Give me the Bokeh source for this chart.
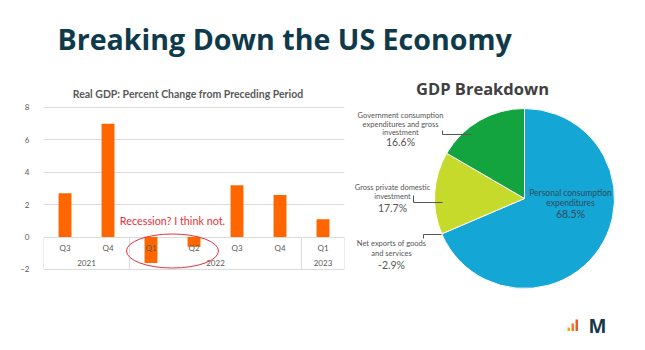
import numpy as np
from bokeh.plotting import figure
from bokeh.layouts import column, row
from bokeh.models import Range1d, FixedTicker, ColumnDataSource
from bokeh.core.properties import value
from bokeh.embed import file_html
from bokeh.resources import INLINE

# ---------------- data ----------------
quarters = ["Q3", "Q4", "Q1", "Q2", "Q3", "Q4", "Q1"]
years = ["2021", "2021", "2022", "2022", "2022", "2022", "2023"]
gdp_change = [2.7, 7.0, -1.6, -0.6, 3.2, 2.6, 1.1]
y_ticks = [-2, 0, 2, 4, 6, 8]

pie_labels = ["Personal consumption\nexpenditures",
              "Gross private domestic\ninvestment",
              "Government consumption\nexpenditures and gross\ninvestment",
              "Net exports of goods\nand services"]
pie_shares = [68.5, 17.7, 16.6, -2.9]
pie_pct_text = ["68.5%", "17.7%", "16.6%", "-2.9%"]

ORANGE = "#FF6600"
GRID = "#dcdcdc"
TXT = "#595959"
NAVY = "#0f3a4b"


def bare(fig):
    fig.grid.visible = False
    fig.outline_line_color = None
    return fig


# ---------------- header ----------------
hdr = bare(figure(width=645, height=70, x_range=Range1d(0, 645), y_range=Range1d(-70, 0),
                  output_backend="svg", toolbar_location=None, title=None,
                  x_axis_location=None, y_axis_location=None, min_border=0))
hdr.text(x=[57], y=[-37.5], text=["Breaking Down the US Economy"],
         text_font=value("Open Sans"), text_font_style="bold", text_font_size="28.6px",
         text_color=NAVY, text_baseline="middle", text_align="left")

# ---------------- bar chart ----------------
n = len(gdp_change)
xs = np.arange(n) + 0.5
p = figure(width=345, height=280, x_range=Range1d(0, n), y_range=Range1d(-7.0, 10.28),
           output_backend="svg", toolbar_location=None, x_axis_location=None, title=None,
           min_border_left=43, min_border_right=1, min_border_top=0, min_border_bottom=0)
p.outline_line_color = None

p.yaxis.ticker = FixedTicker(ticks=y_ticks)
p.yaxis.axis_line_color = None
p.yaxis.major_tick_line_color = None
p.yaxis.minor_tick_line_color = None
p.yaxis.major_label_text_font_size = "8px"
p.yaxis.major_label_text_color = TXT
p.yaxis.major_label_text_font = "Lato"
p.yaxis.major_label_standoff = 8
p.ygrid.grid_line_color = GRID
p.xgrid.visible = False

p.text(x=[3.36], y=[8.86], text=["Real GDP: Percent Change from Preceding Period"],
       text_font=value("Lato"), text_font_style="bold", text_font_size="10.5px",
       text_color=TXT, text_align="center", text_baseline="middle")

# group separators
bounds = [0]
for i in range(1, n):
    if years[i] != years[i - 1]:
        bounds.append(i)
bounds.append(n)
p.segment(x0=bounds, y0=[0] * len(bounds), x1=bounds, y1=[y_ticks[0]] * len(bounds),
          line_color=GRID, line_width=1)

p.vbar(x=xs, top=gdp_change, bottom=0, width=0.3, fill_color=ORANGE, line_color=None)

p.text(x=xs, y=[-0.68] * n, text=quarters, text_font=value("Lato"), text_font_size="8px",
       text_color=TXT, text_align="center", text_baseline="middle")
ycent = [(bounds[i] + bounds[i + 1]) / 2 for i in range(len(bounds) - 1)]
ylabs = [years[b] for b in bounds[:-1]]
p.text(x=ycent, y=[-1.6] * len(ycent), text=ylabs, text_font=value("Lato"), text_font_size="8px",
       text_color=TXT, text_align="center", text_baseline="middle")

# annotation
p.ellipse(x=[3.0], y=[-0.86], width=[2.14], height=[2.1], fill_color=None,
          line_color="#e8303a", line_width=1)
p.text(x=[3.0], y=[1.05], text=["Recession? I think not."], text_font=value("Lato"),
       text_font_size="10.8px", text_color="#e8303a", text_align="center", text_baseline="middle")

# ---------------- pie ----------------
q = bare(figure(width=300, height=280, x_range=Range1d(345, 645), y_range=Range1d(-350, -70),
                output_backend="svg", toolbar_location=None, title=None,
                x_axis_location=None, y_axis_location=None, min_border=0))

drawn = np.array([pie_shares[0], pie_shares[1] + pie_shares[3], pie_shares[2]])
ang = drawn / drawn.sum() * 2 * np.pi
cum = np.concatenate([[0], np.cumsum(ang)])
start = np.pi / 2 - cum[1:]
end = np.pi / 2 - cum[:-1]
cx, cy, r = 524, -198, 90
src = ColumnDataSource(dict(start=start, end=end,
                            color=["#14A6D4", "#C6DA2C", "#13A33F"]))
q.wedge(x=cx, y=cy, radius=r, start_angle="start", end_angle="end", direction="anticlock",
        fill_color="color", line_color="white", line_width=1, source=src)

q.text(x=[482], y=[-87.5], text=["GDP Breakdown"], text_font=value("Open Sans"),
       text_font_style="bold", text_font_size="16.5px", text_color="#404040",
       text_align="center", text_baseline="middle")

LBL = "#555555"
# (label index, x centre, first line centre y, line step, percent centre y, font size, colour)
placements = [
    (0, 570, -192, 10.0, -213, "8.5px", "#2e4a5c"),
    (2, 400, -115, 8.6, -141, "7.5px", LBL),
    (1, 392, -187, 9.0, -207, "7.5px", LBL),
    (3, 391, -243, 10.0, -264, "7.5px", LBL),
]
for idx, x0, y0, step, yp, fs, col in placements:
    lines = pie_labels[idx].split("\n")
    q.text(x=[x0] * len(lines), y=[y0 - k * step for k in range(len(lines))], text=lines,
           text_font=value("Lato"), text_font_size=fs, text_color=col,
           text_align="center", text_baseline="middle")
    q.text(x=[x0], y=[yp], text=[pie_pct_text[idx]], text_font=value("Lato"),
           text_font_size="10.5px", text_color=col, text_align="center", text_baseline="middle")

# leader lines
q.multi_line(xs=[[442, 442, 471], [413, 413, 442], [423, 423, 441]],
             ys=[[-130, -134, -134], [-195, -202, -202], [-238, -234, -234]],
             line_color="#555555", line_width=1)

# logo
q.quad(left=[567, 571, 575], right=[569.5, 573.5, 577.5], top=[-327, -323, -319],
       bottom=[-330.5, -330.5, -330.5], fill_color=["#F7A800", "#F47B20", "#F05A28"], line_color=None)
q.text(x=[588], y=[-325], text=["M"], text_font=value("Open Sans"), text_font_style="bold",
       text_font_size="19px", text_color="#15384a", text_baseline="middle", text_align="left")

layout = column(hdr, row(p, q, spacing=0), spacing=0)
open("out.html", "w").write(file_html(layout, INLINE))
